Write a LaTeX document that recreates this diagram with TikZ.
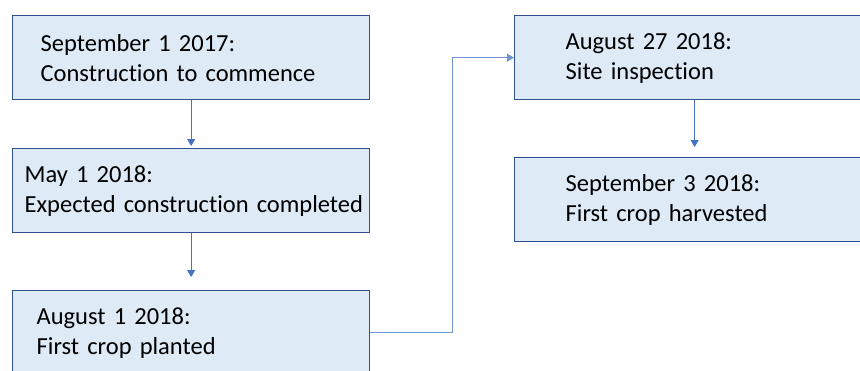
\documentclass[tikz,border=0pt]{standalone}
\usepackage{fontspec}
\setmainfont{Carlito}[Ligatures=NoCommon]
\usepackage{tikz}
\usetikzlibrary{arrows.meta, positioning}

\definecolor{boxfill}{HTML}{DEEAF6}
\definecolor{boxline}{HTML}{2F528F}
\definecolor{arrowblue}{HTML}{4472C4}
\definecolor{elbowblue}{HTML}{8FAADC}

\hbadness=10000
\hfuzz=50pt

\begin{document}
\begin{tikzpicture}[x=1pt, y=-1pt,
    event/.style={draw=boxline, fill=boxfill, line width=1.3pt, anchor=north west,
        minimum height=84pt, align=left, inner ysep=0pt,
        font=\fontsize{24.5}{30}\selectfont},
    link/.style={arrowblue, line width=1pt, -{Triangle[length=7pt, width=8pt]}}]
    \useasboundingbox (0, 0) rectangle (860, 370);
    \clip (0, 0) rectangle (860, 370);

    \node[event, inner xsep=28pt, text width=301pt] (sept17) at (12, 15)
        {September 1 2017:\\Construction to commence};
    \node[event, inner xsep=12pt, text width=333pt] (may18) at (12, 148)
        {May 1 2018:\\\mbox{Expected construction completed}};
    \node[event, inner xsep=24pt, text width=309pt] (planted) at (12, 290)
        {August 1 2018:\\First crop planted};
    \node[event, inner xsep=51pt, text width=258pt] (inspect) at (514, 15)
        {August 27 2018:\\Site inspection};
    \node[event, inner xsep=51pt, text width=258pt] (harvest) at (514, 157)
        {September 3 2018:\\First crop harvested};

    \draw[link, shorten >=2pt] (sept17.south) -- (may18.north);
    \draw[link, shorten >=13pt] (may18.south) -- (planted.north);
    \draw[link, shorten >=10pt] (inspect.south) -- (harvest.north);
    \draw[link, elbowblue!60!arrowblue] (planted.east) -- ++(82, 0) |- (inspect.west);
\end{tikzpicture}
\end{document}
